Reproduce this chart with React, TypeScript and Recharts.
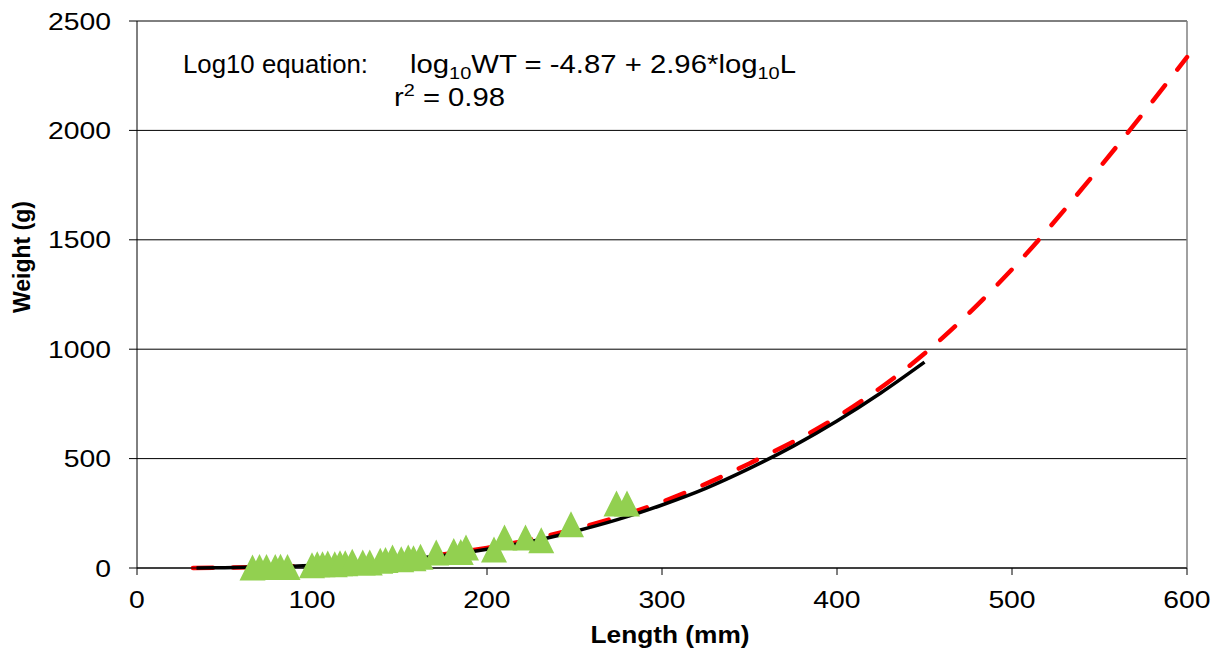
import React from 'react'
import { ComposedChart, Scatter, Line, XAxis, YAxis, CartesianGrid, ReferenceLine } from 'recharts'

const obsLength = [66, 70, 74, 79, 82, 86, 100, 103, 106, 109, 113, 116, 119, 123, 129, 133, 139, 142, 146, 151, 155, 158, 162, 171, 181, 185, 188, 204, 210, 222, 231, 248, 274, 280]
const obsWeight = [2, 4, 5, 4, 6, 5, 12, 17, 17, 20, 17, 22, 22, 28, 25, 25, 33, 36, 48, 40, 48, 45, 51, 71, 78, 73, 94, 85, 139, 139, 127, 200, 295, 295]

// Fitted log10 curve (black, solid)
const fitLength = [34, 50, 75, 100, 125, 150, 175, 200, 225, 250, 275, 300, 325, 350, 375, 400, 425, 450]
const fitWeight = [0.4, 1.5, 5, 11, 21, 37, 57, 86, 121, 167, 222, 288, 364, 455, 557, 672, 800, 941]

// Standard weight curve (red, dashed)
const stdLength = [32, 50, 75, 100, 150, 200, 250, 300, 350, 400, 450, 500, 550, 600]
const stdWeight = [0.5, 2, 5, 12, 40, 92, 178, 302, 478, 690, 980, 1365, 1830, 2335]

const xTicks = [0, 100, 200, 300, 400, 500, 600]
const yTicks = [0, 500, 1000, 1500, 2000, 2500]

const obsData = obsLength.map((x, i) => ({ x, y: obsWeight[i] }))
const fitData = fitLength.map((x, i) => ({ x, y: fitWeight[i] }))
const stdData = stdLength.map((x, i) => ({ x, y: stdWeight[i] }))

const FONT = '"Liberation Sans", Arial, sans-serif'
const SX = 1.18 // the original text is a bit wide

// green triangle marker, like the Excel one
const Triangle = (props: any) => {
  const { cx, cy } = props
  const h = 13
  return <polygon points={`${cx},${cy - h} ${cx + h},${cy + h} ${cx - h},${cy + h}`} fill="#92D050" />
}

// tick label stretched sideways around its anchor
const WideTick = (props: any) => {
  const { x, y, payload, textAnchor, dy } = props
  return (
    <text
      x={x}
      y={y}
      dy={dy}
      textAnchor={textAnchor}
      fontFamily={FONT}
      fontSize={24}
      fill="#000"
      transform={`translate(${x},0) scale(${SX},1) translate(${-x},0)`}
    >
      {payload.value}
    </text>
  )
}

const XTick = (props: any) => <WideTick {...props} textAnchor="middle" dy="0.71em" />
const YTick = (props: any) => <WideTick {...props} textAnchor="end" dy="0.355em" />

export default function App() {
  return (
    <div style={{ position: 'absolute', left: 0, top: 0, width: 1215, height: 649, background: '#fff' }}>
      <ComposedChart width={1215} height={649} margin={{ top: 21, right: 28, bottom: 0, left: 0 }}>
        <CartesianGrid vertical={false} stroke="#000" />
        <XAxis
          type="number"
          dataKey="x"
          domain={[0, 600]}
          ticks={xTicks}
          height={81}
          tickSize={7}
          tickMargin={16}
          axisLine={{ stroke: '#000' }}
          tickLine={{ stroke: '#000' }}
          tick={XTick}
        />
        <YAxis
          type="number"
          dataKey="y"
          domain={[0, 2500]}
          ticks={yTicks}
          width={137}
          tickSize={8}
          tickMargin={18}
          axisLine={{ stroke: '#000' }}
          tickLine={{ stroke: '#000' }}
          tick={YTick}
        />
        <ReferenceLine x={600} stroke="#808080" strokeWidth={1.5} />
        <Scatter data={obsData} shape={Triangle} isAnimationActive={false} />
        <Line
          data={stdData}
          dataKey="y"
          type="monotone"
          stroke="#FF0000"
          strokeWidth={4.5}
          strokeDasharray="20 20"
          strokeLinecap="round"
          dot={false}
          isAnimationActive={false}
        />
        <Line
          data={fitData}
          dataKey="y"
          type="monotone"
          stroke="#000"
          strokeWidth={3.5}
          dot={false}
          isAnimationActive={false}
        />
      </ComposedChart>

      {/* titles and the equation note */}
      <svg width={1215} height={649} style={{ position: 'absolute', left: 0, top: 0, pointerEvents: 'none' }}>
        <text x={670} y={643} textAnchor="middle" fontFamily={FONT} fontSize={24} fontWeight="bold" textLength={159} lengthAdjust="spacingAndGlyphs">
          Length (mm)
        </text>
        <text
          x={0}
          y={0}
          transform="translate(30,257) rotate(-90)"
          textAnchor="middle"
          fontFamily={FONT}
          fontSize={23}
          fontWeight="bold"
        >
          Weight (g)
        </text>
        <text x={183} y={73} fontFamily={FONT} fontSize={25} textLength={185} lengthAdjust="spacingAndGlyphs">
          Log10 equation:
        </text>
        <text x={410} y={73} fontFamily={FONT} fontSize={25} textLength={386} lengthAdjust="spacingAndGlyphs">
          log<tspan dy={6} fontSize={17}>10</tspan>
          <tspan dy={-6}>WT = -4.87 + 2.96*log</tspan>
          <tspan dy={6} fontSize={17}>10</tspan>
          <tspan dy={-6}>L</tspan>
        </text>
        <text x={394} y={106} fontFamily={FONT} fontSize={25} textLength={111} lengthAdjust="spacingAndGlyphs">
          r<tspan dy={-10} fontSize={17}>2</tspan>
          <tspan dy={10}> = 0.98</tspan>
        </text>
      </svg>
    </div>
  )
}
